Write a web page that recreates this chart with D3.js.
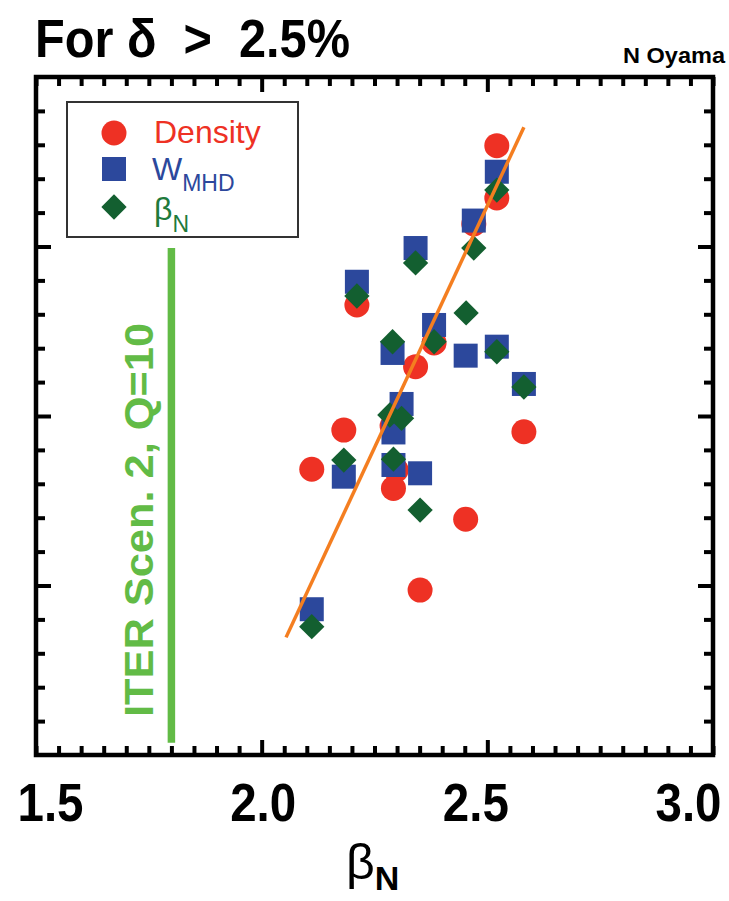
<!DOCTYPE html>
<html>
<head>
<meta charset="utf-8">
<script src="https://cdn.jsdelivr.net/npm/d3@7"></script>
<style>
  body { margin: 0; background: #fff; }
  svg { display: block; }
</style>
</head>
<body>
<svg width="729" height="901"></svg>
<script>
// values (y axis has no labels, kept in plot units 0..4)
const densityX = [2.521, 2.521, 2.470, 2.211, 2.382, 2.341, 2.581, 2.182, 2.111, 2.298, 2.292, 2.452, 2.351, 2.289];
const densityY = [3.595, 3.286, 3.133, 2.655, 2.431, 2.291, 1.907, 1.917, 1.686, 1.681, 1.573, 1.391, 0.973, 1.941];

const wmhdX = [2.521, 2.470, 2.341, 2.211, 2.382, 2.290, 2.452, 2.521, 2.581, 2.310, 2.292, 2.292, 2.351, 2.182, 2.111];
const wmhdY = [3.441, 3.153, 2.991, 2.792, 2.537, 2.372, 2.356, 2.409, 2.189, 2.071, 1.903, 1.711, 1.662, 1.642, 0.860];

const betaX = [2.521, 2.470, 2.341, 2.211, 2.453, 2.382, 2.290, 2.521, 2.581, 2.284, 2.310, 2.292, 2.182, 2.351, 2.111];
const betaY = [3.333, 2.991, 2.903, 2.708, 2.608, 2.438, 2.438, 2.379, 2.171, 2.006, 1.986, 1.745, 1.740, 1.445, 0.757];

// orange fit line end points
const fitX = [2.054, 2.581];
const fitY = [0.694, 3.703];

// ITER scenario 2 line
const iterBeta = 1.8;
const iterY = [0.073, 2.991];

const xTickLabels = [1.5, 2.0, 2.5, 3.0];

var svg = d3.select('svg');

var x = d3.scaleLinear().domain([1.5, 3.0]).range([36, 713]);
var y = d3.scaleLinear().domain([0, 4]).range([755, 77]);
// labels in the original sit slightly inside the frame
var xLab = d3.scaleLinear().domain([1.5, 3.0]).range([50, 688]);

const sans = '"Liberation Sans", Arial, sans-serif';

// ---- ticks on all four sides, pointing inward ----
var xMinor = d3.range(31).map(i => 1.5 + i * 0.05).filter(v => Math.abs(v - 2.0) > 1e-6 && Math.abs(v - 2.5) > 1e-6);
var xMajor = [2.0, 2.5];
var yMinor = d3.range(21).map(i => i * 0.2).filter(v => Math.abs(v - Math.round(v)) > 1e-6);
var yMajor = [1, 2, 3];

function styleAxis(g) {
    g.select('.domain').remove();
    g.selectAll('.tick line').attr('stroke', '#000').attr('stroke-width', 4);
    g.selectAll('.tick text').remove();
}

[[d3.axisBottom, 755], [d3.axisTop, 77]].forEach(function(a) {
    svg.append('g').attr('transform', 'translate(0,' + a[1] + ')')
        .call(a[0](x).tickValues(xMinor).tickSize(-9)).call(styleAxis);
    svg.append('g').attr('transform', 'translate(0,' + a[1] + ')')
        .call(a[0](x).tickValues(xMajor).tickSize(-15)).call(styleAxis);
});
[[d3.axisLeft, 36], [d3.axisRight, 713]].forEach(function(a) {
    svg.append('g').attr('transform', 'translate(' + a[1] + ',0)')
        .call(a[0](y).tickValues(yMinor).tickSize(-9)).call(styleAxis);
    svg.append('g').attr('transform', 'translate(' + a[1] + ',0)')
        .call(a[0](y).tickValues(yMajor).tickSize(-15)).call(styleAxis);
});

// x tick labels (condensed bold in the original, squeezed with textLength)
var labAxis = svg.append('g').attr('transform', 'translate(0,755)')
    .call(d3.axisBottom(xLab).tickValues(xTickLabels).tickSize(0).tickFormat(d3.format('.1f')));
labAxis.select('.domain').remove();
labAxis.selectAll('text')
    .attr('dy', null).attr('y', 66)
    .attr('textLength', 66).attr('lengthAdjust', 'spacingAndGlyphs')
    .style('font-family', sans).style('font-weight', 'bold').style('font-size', '53px').attr('fill', '#000');

// frame
svg.append('rect')
    .attr('x', x(1.5)).attr('y', y(4))
    .attr('width', x(3.0) - x(1.5)).attr('height', y(0) - y(4))
    .attr('fill', 'none').attr('stroke', '#000').attr('stroke-width', 4.5);

// ITER line and label
svg.append('line')
    .attr('x1', x(iterBeta)).attr('x2', x(iterBeta))
    .attr('y1', y(iterY[0])).attr('y2', y(iterY[1]))
    .attr('stroke', '#62bb46').attr('stroke-width', 7.5);

svg.append('text')
    .attr('transform', 'translate(153,520) rotate(-90)')
    .attr('text-anchor', 'middle')
    .attr('textLength', 394).attr('lengthAdjust', 'spacingAndGlyphs')
    .style('font-family', sans).style('font-weight', 'bold').style('font-size', '41px')
    .attr('fill', '#62bb46')
    .text('ITER Scen. 2, Q=10');

// ---- markers ----
const red = '#ee3124', blue = '#2c489c', green = '#135f30';

svg.append('g').selectAll('circle')
    .data(densityX.map((d, i) => [d, densityY[i]]))
    .enter().append('circle')
    .attr('cx', d => x(d[0])).attr('cy', d => y(d[1]))
    .attr('r', 12.5).attr('fill', red);

svg.append('g').selectAll('rect')
    .data(wmhdX.map((d, i) => [d, wmhdY[i]]))
    .enter().append('rect')
    .attr('x', d => x(d[0]) - 12).attr('y', d => y(d[1]) - 12)
    .attr('width', 24).attr('height', 24).attr('fill', blue);

// diamond = square turned by 45 degrees
var diamond = d3.symbol().type(d3.symbolSquare).size(320);
svg.append('g').selectAll('path')
    .data(betaX.map((d, i) => [d, betaY[i]]))
    .enter().append('path')
    .attr('d', diamond)
    .attr('transform', d => 'translate(' + x(d[0]) + ',' + y(d[1]) + ') rotate(45)')
    .attr('fill', green);

// fit line
svg.append('path')
    .datum(fitX.map((d, i) => [d, fitY[i]]))
    .attr('d', d3.line().x(d => x(d[0])).y(d => y(d[1])))
    .attr('fill', 'none').attr('stroke', '#f47e20').attr('stroke-width', 3.5);

// ---- legend ----
var lg = svg.append('g');
lg.append('rect').attr('x', 67).attr('y', 102).attr('width', 231).attr('height', 135)
    .attr('fill', '#fff').attr('stroke', '#333').attr('stroke-width', 2);

lg.append('circle').attr('cx', 114).attr('cy', 133).attr('r', 12.5).attr('fill', red);
lg.append('rect').attr('x', 102).attr('y', 157).attr('width', 24).attr('height', 24).attr('fill', blue);
lg.append('path').attr('d', diamond).attr('transform', 'translate(114,207) rotate(45)').attr('fill', green);

lg.append('text').attr('x', 154).attr('y', 143)
    .style('font-family', sans).style('font-size', '32px').attr('fill', red)
    .text('Density');

var wt = lg.append('text').attr('x', 152).attr('y', 180)
    .style('font-family', sans).style('font-size', '32px').attr('fill', blue);
wt.append('tspan').text('W');
wt.append('tspan').attr('dy', 11).style('font-size', '23px').text('MHD');

var bt = lg.append('text').attr('x', 154).attr('y', 220)
    .style('font-family', sans).style('font-size', '32px').attr('fill', '#1f7a3c');
bt.append('tspan').text('β');
bt.append('tspan').attr('dy', 12).style('font-size', '23px').text('N');

// ---- titles ----
svg.append('text').attr('x', 35).attr('y', 57)
    .attr('textLength', 315).attr('lengthAdjust', 'spacingAndGlyphs')
    .style('font-family', sans).style('font-weight', 'bold').style('font-size', '54px')
    .style('white-space', 'pre').attr('fill', '#000')
    .text('For δ  >  2.5%');

svg.append('text').attr('x', 725).attr('y', 63).attr('text-anchor', 'end')
    .attr('textLength', 102).attr('lengthAdjust', 'spacingAndGlyphs')
    .style('font-family', sans).style('font-weight', 'bold').style('font-size', '22px')
    .attr('fill', '#000')
    .text('N Oyama');

var xt = svg.append('text').attr('x', 346).attr('y', 879)
    .style('font-family', sans).style('font-size', '50px').attr('fill', '#000');
xt.append('tspan').text('β');
xt.append('tspan').attr('dy', 11).style('font-weight', 'bold').style('font-size', '34px').text('N');
</script>
</body>
</html>
